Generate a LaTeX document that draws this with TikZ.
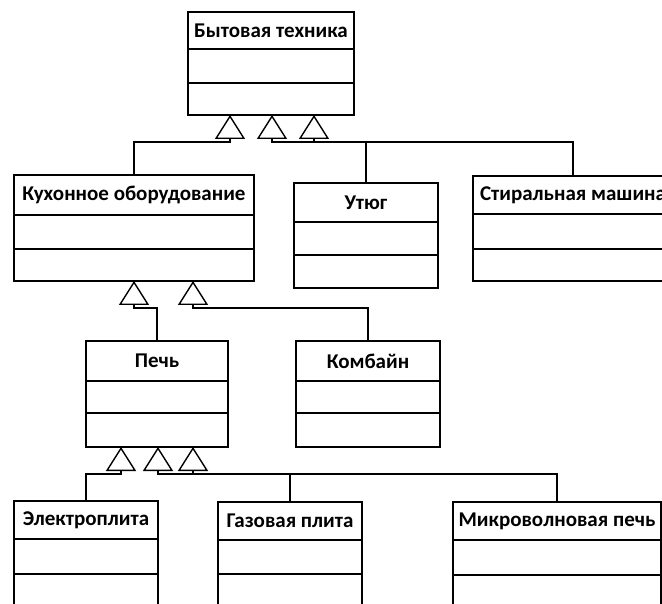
\documentclass[tikz,border=0pt]{standalone}
\usepackage{fontspec}
\setmainfont{Carlito}
\usetikzlibrary{positioning,arrows.meta}

\tikzset{
  classhead/.style={draw, line width=1.4pt, inner sep=0pt, outer sep=0pt,
    anchor=north west, font=\fontsize{21}{23}\selectfont\bfseries},
  classpart/.style={draw, line width=1.4pt, inner sep=0pt, outer sep=0pt},
  inherit/.style={line width=1.4pt, -{Triangle[open, length=24pt, width=30pt]}}
}

\begin{document}
\begin{tikzpicture}[x=1pt,y=-1pt]
\useasboundingbox (0,0) rectangle (662,604);
\clip (0,0) rectangle (662,604);
% level 0
\node[classhead, minimum width=166pt, minimum height=37pt] (tech) at (188,12) {Бытовая техника};
\node[classpart, minimum width=166pt, minimum height=34pt, below=0pt of tech] (tech-attr) {};
\node[classpart, minimum width=166pt, minimum height=32pt, below=0pt of tech-attr] (tech-ops) {};
% level 1
\node[classhead, minimum width=240pt, minimum height=40pt] (kitchen) at (14,175) {Кухонное оборудование};
\node[classpart, minimum width=240pt, minimum height=34pt, below=0pt of kitchen] (kitchen-attr) {};
\node[classpart, minimum width=240pt, minimum height=32pt, below=0pt of kitchen-attr] (kitchen-ops) {};
\node[classhead, minimum width=144pt, minimum height=39pt] (iron) at (294,183) {Утюг};
\node[classpart, minimum width=144pt, minimum height=33pt, below=0pt of iron] (iron-attr) {};
\node[classpart, minimum width=144pt, minimum height=33pt, below=0pt of iron-attr] (iron-ops) {};
\node[classhead, minimum width=200pt, minimum height=38pt] (washer) at (473,176) {Стиральная машина};
\node[classpart, minimum width=200pt, minimum height=35pt, below=0pt of washer] (washer-attr) {};
\node[classpart, minimum width=200pt, minimum height=32pt, below=0pt of washer-attr] (washer-ops) {};
% level 2
\node[classhead, minimum width=142pt, minimum height=40pt] (oven) at (86,341) {Печь};
\node[classpart, minimum width=142pt, minimum height=32pt, below=0pt of oven] (oven-attr) {};
\node[classpart, minimum width=142pt, minimum height=34pt, below=0pt of oven-attr] (oven-ops) {};
\node[classhead, minimum width=144pt, minimum height=40pt] (combine) at (296,341) {Комбайн};
\node[classpart, minimum width=144pt, minimum height=32pt, below=0pt of combine] (combine-attr) {};
\node[classpart, minimum width=144pt, minimum height=34pt, below=0pt of combine-attr] (combine-ops) {};
% level 3
\node[classhead, minimum width=144pt, minimum height=38pt] (electric) at (14,501) {Электроплита};
\node[classpart, minimum width=144pt, minimum height=35pt, below=0pt of electric] (electric-attr) {};
\node[classpart, minimum width=144pt, minimum height=40pt, below=0pt of electric-attr] (electric-ops) {};
\node[classhead, minimum width=144pt, minimum height=38pt] (gas) at (218,502) {Газовая плита};
\node[classpart, minimum width=144pt, minimum height=34pt, below=0pt of gas] (gas-attr) {};
\node[classpart, minimum width=144pt, minimum height=40pt, below=0pt of gas-attr] (gas-ops) {};
\node[classhead, minimum width=208pt, minimum height=38pt] (microwave) at (453,502) {Микроволновая печь};
\node[classpart, minimum width=208pt, minimum height=35pt, below=0pt of microwave] (microwave-attr) {};
\node[classpart, minimum width=208pt, minimum height=40pt, below=0pt of microwave-attr] (microwave-ops) {};
% generalization points
\coordinate (tech-g1) at ([xshift=42pt]tech-ops.south west);
\coordinate (tech-g2) at ([xshift=84pt]tech-ops.south west);
\coordinate (tech-g3) at ([xshift=126pt]tech-ops.south west);
\coordinate (kitchen-g1) at ([xshift=120pt]kitchen-ops.south west);
\coordinate (kitchen-g2) at ([xshift=179pt]kitchen-ops.south west);
\coordinate (oven-g1) at ([xshift=35pt]oven-ops.south west);
\coordinate (oven-g2) at ([xshift=72pt]oven-ops.south west);
\coordinate (oven-g3) at ([xshift=107pt]oven-ops.south west);
% connectors
\draw[inherit] (kitchen.north) |- ([yshift=-27pt]tech-g1) -- (tech-g1);
\draw[inherit] (iron.north) |- ([yshift=-27pt]tech-g2) -- (tech-g2);
\draw[inherit] (washer.north) |- ([yshift=-27pt]tech-g3) -- (tech-g3);
\draw[inherit] (oven.north) |- ([yshift=-27pt]kitchen-g1) -- (kitchen-g1);
\draw[inherit] (combine.north) |- ([yshift=-27pt]kitchen-g2) -- (kitchen-g2);
\draw[inherit] (electric.north) |- ([yshift=-27pt]oven-g1) -- (oven-g1);
\draw[inherit] (gas.north) |- ([yshift=-27pt]oven-g2) -- (oven-g2);
\draw[inherit] (microwave.north) |- ([yshift=-27pt]oven-g3) -- (oven-g3);
\end{tikzpicture}
\end{document}
